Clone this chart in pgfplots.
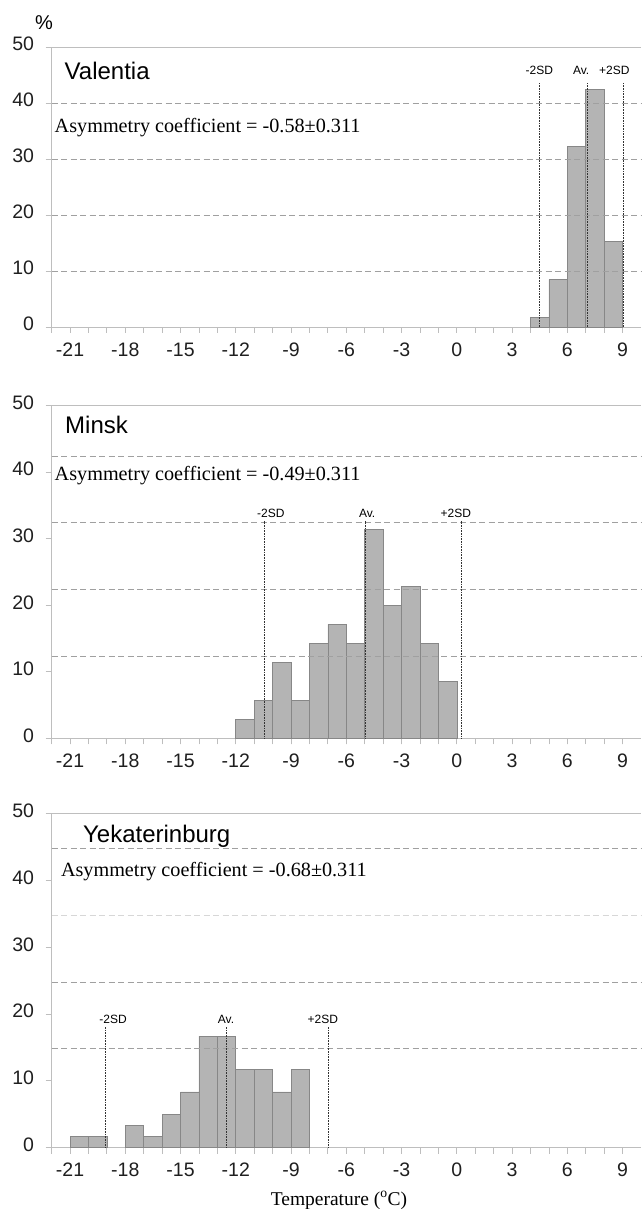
\documentclass[border=0pt]{standalone}
\usepackage{pgfplots}
\pgfplotsset{compat=1.18}
\usepackage{fontspec}
\setmainfont{Liberation Serif}
\newfontfamily\arial{Liberation Sans}
\definecolor{barfill}{RGB}{180,180,180}
\definecolor{baredge}{RGB}{135,135,135}
\definecolor{axgray}{RGB}{190,190,190}
\definecolor{gridgray}{RGB}{160,160,160}
\definecolor{gridlight}{RGB}{215,215,215}
\tikzset{
  sdlab/.style={font=\arial\fontsize{12}{12}\selectfont, anchor=base, inner sep=0pt},
  city/.style={font=\arial\fontsize{24}{24}\selectfont, anchor=base west, inner sep=0pt},
  asym/.style={font=\fontsize{20.2}{20.2}\selectfont, anchor=base west, inner sep=0pt},
}
\pgfplotsset{
  panel/.style={
    scale only axis, width=589.4pt,
    xmin=-22, xmax=10, ymin=0, ymax=50,
    axis x line=bottom, axis y line=left,
    axis line style={axgray, line width=0.8pt, -},
    xtick={-21,-18,...,9},
    xticklabels={-21,-18,-15,-12,-9,-6,-3,0,3,6,9},
    minor xtick={-22,-21,...,9},
    ytick={0,10,...,50},
    yticklabels={0,10,20,30,40,50},
    tick align=outside,
    major tick length=6pt, minor tick length=6pt,
    tick style={axgray, line width=0.8pt},
    ticklabel style={font=\arial\fontsize{19.5}{19.5}\selectfont, text=black!88},
    typeset ticklabels with strut,
    xticklabel style={yshift=-6pt},
    yticklabel style={xshift=-8pt},
    clip=false,
    anchor=south west,
  },
  bars/.style={ybar interval, fill=barfill, draw=baredge, line width=0.6pt},
  grd/.style={gridgray, line width=0.8pt, dash pattern=on 6pt off 3.5pt},
  sd/.style={black!80, line width=0.7pt, dash pattern=on 0.8pt off 0.8pt},
}
\begin{document}
\begin{tikzpicture}
\path[use as bounding box] (0,0) rectangle (641pt,1209pt);
\node[font=\arial\fontsize{20}{20}\selectfont, inner sep=0pt] at (44pt,1186.5pt) {\%};
% ---------------- Valentia
\begin{axis}[panel, height=280pt, at={(51.6pt,882pt)}]
\addplot[bars] coordinates {(4,1.69) (5,8.47) (6,32.2) (7,42.37) (8,15.25) (9,15.25)};
\addplot[grd] coordinates {(-22,10) (10,10)};
\addplot[grd] coordinates {(-22,20) (10,20)};
\addplot[grd] coordinates {(-22,30) (10,30)};
\addplot[grd] coordinates {(-22,40) (10,40)};
\addplot[sd] coordinates {(4.48,0) (4.48,43.5)};
\addplot[sd] coordinates {(7.09,0) (7.09,43.5)};
\addplot[sd] coordinates {(9.05,0) (9.05,43.5)};
\draw[axgray, line width=0.8pt] (rel axis cs:0,1) -- (rel axis cs:1,1);
\node[sdlab] at (axis cs:4.48,45.0) {-2SD};
\node[sdlab] at (axis cs:6.75,45.0) {Av.};
\node[sdlab] at (axis cs:8.55,45.0) {+2SD};
\node[city] at (axis cs:-21.3,44.2) {Valentia};
\node[asym] at (axis cs:-21.84,34.8) {Asymmetry coefficient = -0.58±0.311};
\end{axis}
% ---------------- Minsk
\begin{axis}[panel, height=333pt, at={(51.6pt,470.5pt)}]
\addplot[bars] coordinates {(-12,2.86) (-11,5.71) (-10,11.43) (-9,5.71) (-8,14.29) (-7,17.14) (-6,14.29) (-5,31.43) (-4,20.0) (-3,22.86) (-2,14.29) (-1,8.57) (0,8.57)};
\addplot[grd] coordinates {(-22,12.4) (10,12.4)};
\addplot[grd] coordinates {(-22,22.4) (10,22.4)};
\addplot[grd] coordinates {(-22,32.4) (10,32.4)};
\addplot[grd] coordinates {(-22,42.4) (10,42.4)};
\addplot[sd] coordinates {(-10.43,0) (-10.43,32.7)};
\addplot[sd] coordinates {(-4.96,0) (-4.96,32.7)};
\addplot[sd] coordinates {(0.24,0) (0.24,32.7)};
\draw[axgray, line width=0.8pt] (rel axis cs:0,1) -- (rel axis cs:1,1);
\node[sdlab] at (axis cs:-10.1,33.2) {-2SD};
\node[sdlab] at (axis cs:-4.87,33.2) {Av.};
\node[sdlab] at (axis cs:-0.05,33.2) {+2SD};
\node[city] at (axis cs:-21.27,45.8) {Minsk};
\node[asym] at (axis cs:-21.84,38.7) {Asymmetry coefficient = -0.49±0.311};
\end{axis}
% ---------------- Yekaterinburg
\begin{axis}[panel, height=334pt, at={(51.6pt,61.4pt)}]
\addplot[bars] coordinates {(-21,1.67) (-20,1.67) (-19,1.67)};
\addplot[bars] coordinates {(-18,3.33) (-17,1.67) (-16,5.0) (-15,8.33) (-14,16.67) (-13,16.67) (-12,11.67) (-11,11.67) (-10,8.33) (-9,11.67) (-8,11.67)};
\addplot[grd] coordinates {(-22,14.8) (10,14.8)};
\addplot[grd] coordinates {(-22,24.8) (10,24.8)};
\addplot[grd, gridlight] coordinates {(-22,34.8) (10,34.8)};
\addplot[grd] coordinates {(-22,44.8) (10,44.8)};
\addplot[sd] coordinates {(-19.1,0) (-19.1,18.2)};
\addplot[sd] coordinates {(-12.53,0) (-12.53,18.2)};
\addplot[sd] coordinates {(-7.0,0) (-7.0,18.2)};
\draw[axgray, line width=0.8pt] (rel axis cs:0,1) -- (rel axis cs:1,1);
\node[sdlab] at (axis cs:-18.66,18.6) {-2SD};
\node[sdlab] at (axis cs:-12.53,18.6) {Av.};
\node[sdlab] at (axis cs:-7.27,18.6) {+2SD};
\node[city] at (axis cs:-20.3,45.7) {Yekaterinburg};
\node[asym] at (axis cs:-21.5,40.6) {Asymmetry coefficient = -0.68±0.311};
\end{axis}
\node[anchor=base, font=\fontsize{19.5}{19.5}\selectfont, inner sep=0pt] at (339pt,4pt) {Temperature (\textsuperscript{o}C)};
\end{tikzpicture}
\end{document}
